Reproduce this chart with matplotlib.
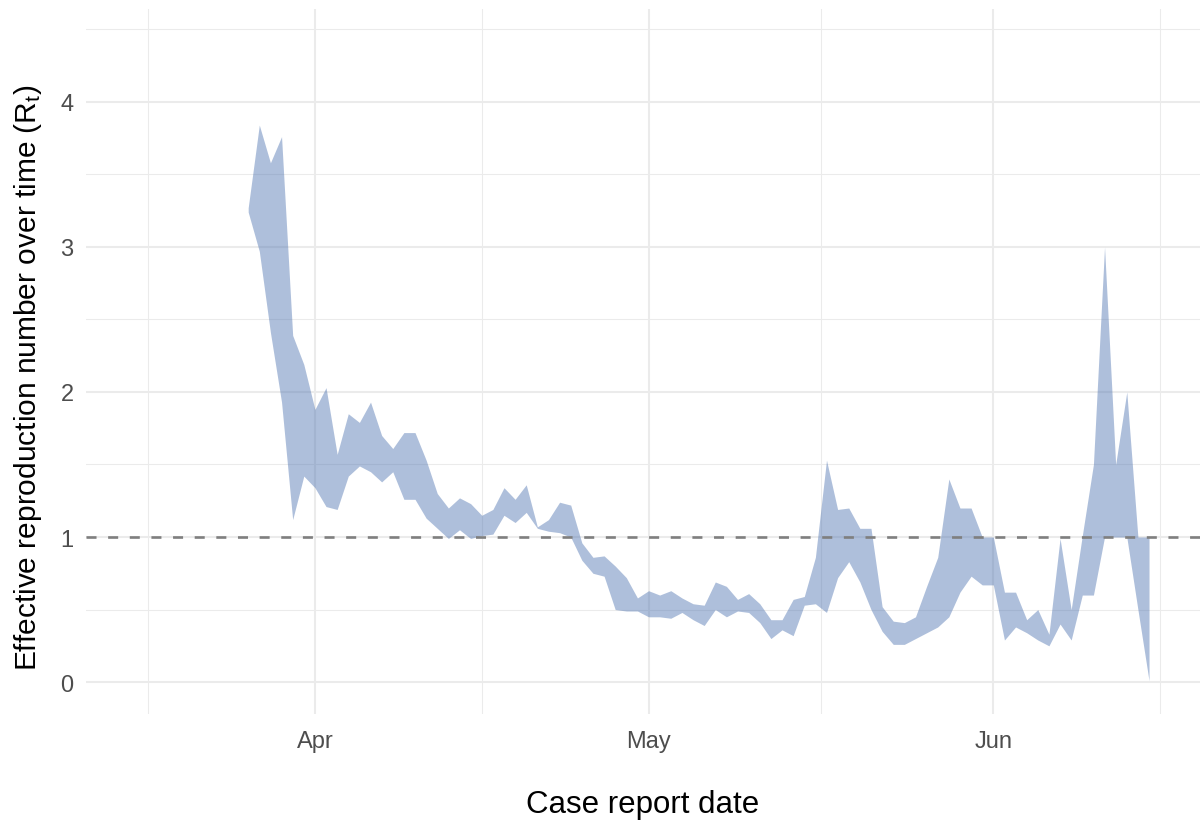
import matplotlib
matplotlib.use('Agg')
import matplotlib.pyplot as plt
import numpy as np
import pandas as pd

plt.rcParams['font.family'] = ['Liberation Sans', 'DejaVu Sans']
plt.rcParams['mathtext.fontset'] = 'custom'
plt.rcParams['mathtext.rm'] = 'Liberation Sans'

start_date = '2020-03-26'
upper = [3.27, 3.84, 3.58, 3.76, 2.39, 2.19, 1.88, 2.03, 1.57, 1.85,
         1.79, 1.93, 1.70, 1.61, 1.72, 1.72, 1.53, 1.30, 1.20, 1.27,
         1.23, 1.15, 1.19, 1.34, 1.26, 1.36, 1.07, 1.12, 1.24, 1.22,
         0.96, 0.86, 0.87, 0.80, 0.72, 0.58, 0.63, 0.60, 0.63, 0.58,
         0.54, 0.53, 0.69, 0.66, 0.57, 0.61, 0.54, 0.43, 0.43, 0.57,
         0.59, 0.86, 1.53, 1.19, 1.20, 1.06, 1.06, 0.52, 0.42, 0.41,
         0.45, 0.66, 0.86, 1.40, 1.20, 1.20, 1.00, 1.00, 0.62, 0.62,
         0.43, 0.50, 0.33, 0.99, 0.50, 1.01, 1.50, 3.00, 1.50, 2.00,
         1.00, 1.00]
lower = [3.24, 2.97, 2.41, 1.93, 1.12, 1.42, 1.34, 1.21, 1.19, 1.42,
         1.49, 1.45, 1.38, 1.45, 1.26, 1.26, 1.13, 1.06, 0.99, 1.05,
         0.99, 1.01, 1.02, 1.15, 1.10, 1.17, 1.06, 1.04, 1.03, 1.00,
         0.84, 0.75, 0.73, 0.50, 0.49, 0.49, 0.45, 0.45, 0.44, 0.48,
         0.43, 0.39, 0.50, 0.45, 0.49, 0.48, 0.41, 0.30, 0.36, 0.32,
         0.53, 0.54, 0.48, 0.72, 0.83, 0.69, 0.50, 0.35, 0.26, 0.26,
         0.30, 0.34, 0.38, 0.45, 0.62, 0.73, 0.67, 0.67, 0.29, 0.38,
         0.34, 0.29, 0.25, 0.40, 0.29, 0.60, 0.60, 1.00, 1.00, 1.00,
         0.50, 0.01]
dates = pd.date_range(start_date, periods=len(upper))

major_dates = pd.to_datetime(['2020-04-01', '2020-05-01', '2020-06-01'])
major_labels = ['Apr', 'May', 'Jun']
minor_dates = pd.to_datetime(['2020-03-17 00:00', '2020-04-16 00:00', '2020-05-16 12:00', '2020-06-16 00:00'])
y_major = [0, 1, 2, 3, 4]
y_minor = [0.5, 1.5, 2.5, 3.5, 4.5]

W, H = 1201, 828
fig = plt.figure(figsize=(W / 100, H / 100), dpi=100)
ax = fig.add_axes([86 / W, 113 / H, (1200 - 86) / W, (715 - 10) / H])

ax.fill_between(dates, lower, upper, color='#4C72B0', alpha=0.45, linewidth=0, zorder=2)
ax.axhline(1, color='#7F7F7F', ls=(0, (3.8, 4.4)), lw=1.9, zorder=3)

ax.set_ylim(-0.22, 4.64)
ax.set_xlim(pd.Timestamp('2020-03-11 10:00'), pd.Timestamp('2020-06-19 14:00'))

ax.set_xticks(major_dates)
ax.set_xticklabels(major_labels)
ax.set_xticks(minor_dates, minor=True)
ax.set_yticks(y_major)
ax.set_yticks(y_minor, minor=True)

ax.grid(which='major', color='#EBEBEB', lw=1.45, zorder=0)
ax.grid(which='minor', color='#EBEBEB', lw=0.75, zorder=0)
ax.set_axisbelow(True)
for s in ax.spines.values():
    s.set_visible(False)
ax.tick_params(which='both', length=0)
ax.tick_params(axis='x', labelsize=17, colors='#4D4D4D', pad=11.5)
ax.tick_params(axis='y', labelsize=17, colors='#4D4D4D', pad=9)

ax.set_xlabel('Case report date', fontsize=22.5, labelpad=27)
ax.set_ylabel(r'Effective reproduction number over time (R$\mathregular{_t}$)', fontsize=21.5)
ax.yaxis.set_label_coords(-(86 - 28) / (1200 - 86), (715 - 378) / 705)
ax.yaxis.label.set_va('center')

fig.savefig('out.png', dpi=100)
